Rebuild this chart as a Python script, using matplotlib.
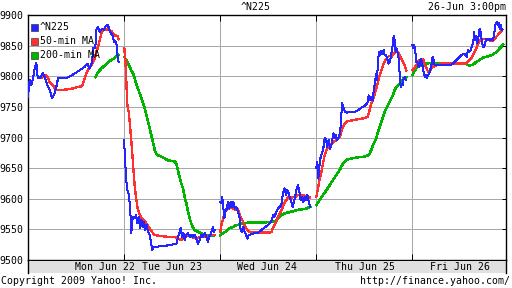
import numpy as np
import matplotlib
matplotlib.use("Agg")
import matplotlib.pyplot as plt
from matplotlib.patches import Rectangle
from matplotlib.lines import Line2D
import matplotlib.transforms as mtransforms

# ---------------- data (x = trading day index, 0 = Mon Jun 22 open) ----------------
N = None
n225_t = [0.000, 0.017, 0.035, 0.052, 0.069, 0.087, 0.097, 0.111, 0.132, 0.156, 0.174, 0.191, 0.208, 0.226,
          0.250, 0.271, 0.295, 0.313, 0.347, 0.399, 0.434, 0.486, 0.538, 0.590, 0.618, 0.642, 0.667, 0.681,
          0.701, 0.712, 0.729, 0.747, 0.771, 0.792, 0.806, 0.833, 0.851, 0.868, 0.885, 0.896, 0.910, 0.924,
          0.931, 0.944, N,
          1.003, 1.010, 1.021, 1.028, 1.042, 1.052, 1.066, 1.076, 1.087, 1.097, 1.111, 1.125, 1.139, 1.153,
          1.167, 1.181, 1.194, 1.208, 1.222, 1.236, 1.250, 1.267, 1.285, 1.295, 1.306, 1.354, 1.424, 1.493,
          1.545, 1.563, 1.580, 1.590, 1.604, 1.618, 1.632, 1.649, 1.667, 1.684, 1.701, 1.719, 1.736, 1.753,
          1.771, 1.788, 1.806, 1.823, 1.840, 1.858, 1.875, 1.885, 1.899, 1.910, 1.927, 1.938, 1.944, N,
          2.003, 2.014, 2.024, 2.035, 2.045, 2.056, 2.069, 2.083, 2.097, 2.111, 2.125, 2.139, 2.153, 2.170,
          2.188, 2.205, 2.215, 2.229, 2.243, 2.257, 2.271, 2.285, 2.299, 2.326, 2.361, 2.396, 2.431, 2.465,
          2.500, 2.535, 2.552, 2.569, 2.587, 2.604, 2.622, 2.639, 2.656, 2.674, 2.688, 2.701, 2.715, 2.729,
          2.743, 2.757, 2.771, 2.785, 2.799, 2.813, 2.826, 2.840, 2.854, 2.868, 2.882, 2.896, 2.910, 2.924,
          2.938, N,
          3.003, 3.014, 3.024, 3.035, 3.045, 3.056, 3.066, 3.076, 3.087, 3.097, 3.108, 3.118, 3.132, 3.146,
          3.160, 3.174, 3.184, 3.194, 3.208, 3.222, 3.236, 3.250, 3.260, 3.271, 3.281, 3.292, 3.306, 3.323,
          3.403, 3.438, 3.472, 3.507, 3.535, 3.549, 3.563, 3.576, 3.590, 3.604, 3.618, 3.628, 3.635, 3.646,
          3.656, 3.667, 3.677, 3.691, 3.705, 3.715, 3.729, 3.743, 3.757, 3.771, 3.785, 3.799, 3.809, 3.819,
          3.830, 3.840, 3.851, 3.861, 3.872, 3.882, 3.892, 3.903, 3.913, 3.924, 3.934, N,
          4.003, 4.014, 4.024, 4.035, 4.045, 4.056, 4.069, 4.080, 4.090, 4.104, 4.115, 4.125, 4.135, 4.146,
          4.156, 4.167, 4.181, 4.194, 4.205, 4.215, 4.226, 4.236, 4.253, 4.306, 4.375, 4.410, 4.444, 4.479,
          4.514, 4.549, 4.569, 4.583, 4.597, 4.611, 4.625, 4.639, 4.646, 4.656, 4.667, 4.681, 4.694, 4.705,
          4.715, 4.729, 4.743, 4.757, 4.771, 4.785, 4.799, 4.813, 4.826, 4.840, 4.854, 4.868, 4.882, 4.892,
          4.903, 4.913, 4.924, 4.934, 4.941]
n225_v = [9767, 9794, 9786, 9797, 9813, 9822, 9802, 9797, 9799, 9806, 9799, 9791, 9783, 9778,
          9764, 9770, 9783, 9797, 9797, 9797, 9800, 9805, 9810, 9816, 9821, 9813, 9824, 9847,
          9847, 9876, 9881, 9873, 9878, 9876, 9882, 9884, 9874, 9870, 9866, 9856, 9858, 9851,
          9835, 9824, N,
          9696, 9652, 9650, 9617, 9612, 9606, 9579, 9544, 9565, 9571, 9568, 9573, 9560, 9571,
          9552, 9565, 9554, 9563, 9549, 9557, 9546, 9541, 9525, 9516, 9522, 9522, 9523, 9525,
          9526, 9538, 9546, 9552, 9538, 9544, 9533, 9541, 9544, 9538, 9541, 9538, 9541, 9535,
          9526, 9533, 9541, 9538, 9544, 9538, 9530, 9538, 9541, 9546, 9554, 9546, 9549, N,
          9595, 9593, 9603, 9584, 9568, 9579, 9584, 9595, 9584, 9595, 9587, 9595, 9584, 9587,
          9579, 9568, 9549, 9546, 9554, 9546, 9541, 9535, 9541, 9542, 9544, 9544, 9549, 9553,
          9557, 9563, 9573, 9571, 9579, 9584, 9587, 9590, 9609, 9617, 9606, 9614, 9609, 9601,
          9595, 9587, 9595, 9606, 9617, 9622, 9612, 9598, 9603, 9595, 9603, 9598, 9606, 9595,
          9587, N,
          9650, 9661, 9633, 9652, 9666, 9671, 9677, 9682, 9696, 9699, 9693, 9685, 9696, 9682,
          9688, 9701, 9707, 9699, 9704, 9696, 9701, 9707, 9726, 9756, 9753, 9745, 9742, 9741,
          9742, 9745, 9749, 9752, 9756, 9769, 9761, 9767, 9761, 9780, 9794, 9805, 9794, 9824,
          9840, 9835, 9841, 9837, 9843, 9835, 9835, 9829, 9821, 9824, 9837, 9851, 9866, 9859,
          9840, 9846, 9837, 9829, 9802, 9783, 9788, 9786, 9797, 9799, 9794, N,
          9851, 9846, 9852, 9840, 9824, 9824, 9816, 9818, 9829, 9824, 9810, 9805, 9799, 9802,
          9797, 9802, 9805, 9813, 9821, 9832, 9827, 9818, 9818, 9818, 9818, 9819, 9824, 9829,
          9835, 9837, 9832, 9843, 9840, 9843, 9851, 9856, 9873, 9859, 9867, 9854, 9867, 9878,
          9873, 9856, 9848, 9851, 9862, 9859, 9862, 9859, 9862, 9859, 9867, 9884, 9889, 9884,
          9888, 9878, 9884, 9876, 9877]

ma50_t = [0.104, 0.139, 0.167, 0.191, 0.208, 0.226, 0.243, 0.260, 0.278, 0.295, 0.347, 0.417, 0.486, 0.521,
          0.556, 0.573, 0.590, 0.608, 0.625, 0.642, 0.660, 0.677, 0.694, 0.712, 0.729, 0.747, 0.764, 0.781,
          0.799, 0.833, 0.868, 0.889, 0.910, 0.931, 0.944, N,
          1.003, 1.014, 1.024, 1.035, 1.049, 1.059, 1.069, 1.083, 1.097, 1.111, 1.125, 1.139, 1.153, 1.167,
          1.181, 1.198, 1.215, 1.233, 1.250, 1.267, 1.285, 1.302, 1.319, 1.354, 1.389, 1.458, 1.528, 1.556,
          1.580, 1.597, 1.615, 1.632, 1.667, 1.701, 1.736, 1.771, 1.806, 1.840, 1.875, 1.910, 1.944, N,
          2.003, 2.014, 2.028, 2.042, 2.056, 2.076, 2.097, 2.118, 2.139, 2.160, 2.181, 2.194, 2.208, 2.222,
          2.240, 2.257, 2.274, 2.292, 2.326, 2.517, 2.535, 2.552, 2.569, 2.587, 2.604, 2.622, 2.639, 2.656,
          2.674, 2.691, 2.708, 2.743, 2.778, 2.813, 2.847, 2.882, 2.917, 2.938, N,
          3.003, 3.021, 3.038, 3.056, 3.073, 3.090, 3.108, 3.125, 3.142, 3.160, 3.177, 3.194, 3.212, 3.229,
          3.247, 3.264, 3.281, 3.299, 3.323, 3.368, 3.403, 3.438, 3.472, 3.507, 3.535, 3.549, 3.563, 3.576,
          3.590, 3.604, 3.618, 3.632, 3.646, 3.663, 3.681, 3.698, 3.715, 3.733, 3.750, 3.767, 3.785, 3.802,
          3.819, 3.837, 3.854, 3.872, 3.889, 3.906, 3.924, 3.941, N,
          4.003, 4.017, 4.035, 4.052, 4.069, 4.090, 4.104, 4.118, 4.132, 4.146, 4.160, 4.174, 4.188, 4.201,
          4.219, 4.236, 4.253, 4.271, 4.306, 4.514, 4.549, 4.583, 4.601, 4.618, 4.635, 4.653, 4.670, 4.688,
          4.705, 4.722, 4.792, 4.809, 4.826, 4.844, 4.861, 4.878, 4.896, 4.913, 4.931]
ma50_v = [9797, 9797, 9802, 9802, 9797, 9791, 9788, 9786, 9781, 9778, 9778, 9779, 9781, 9783,
          9784, 9788, 9797, 9805, 9810, 9816, 9819, 9824, 9829, 9840, 9848, 9859, 9870, 9876,
          9877, 9877, 9874, 9870, 9867, 9866, 9861, N,
          9846, 9829, 9794, 9753, 9742, 9726, 9707, 9682, 9650, 9622, 9603, 9587, 9579, 9573,
          9569, 9566, 9563, 9560, 9556, 9552, 9547, 9544, 9541, 9540, 9539, 9538, 9538, 9536,
          9534, 9533, 9534, 9538, 9541, 9538, 9536, 9536, 9538, 9538, 9539, 9541, 9541, N,
          9546, 9557, 9565, 9573, 9579, 9584, 9585, 9587, 9584, 9582, 9584, 9579, 9573, 9568,
          9563, 9557, 9552, 9547, 9545, 9545, 9546, 9552, 9557, 9563, 9571, 9576, 9582, 9587,
          9594, 9598, 9602, 9602, 9603, 9606, 9606, 9605, 9603, 9602, N,
          9603, 9617, 9633, 9644, 9658, 9671, 9680, 9685, 9688, 9690, 9692, 9694, 9696, 9698,
          9701, 9710, 9718, 9723, 9727, 9728, 9729, 9730, 9731, 9732, 9734, 9739, 9748, 9756,
          9761, 9767, 9775, 9783, 9791, 9802, 9810, 9818, 9824, 9829, 9832, 9834, 9832, 9836,
          9839, 9840, 9839, 9835, 9829, 9824, 9818, 9810, N,
          9810, 9813, 9816, 9821, 9825, 9828, 9829, 9827, 9821, 9816, 9810, 9807, 9810, 9813,
          9816, 9817, 9818, 9819, 9821, 9821, 9821, 9824, 9827, 9830, 9835, 9841, 9846, 9854,
          9859, 9861, 9861, 9859, 9858, 9859, 9862, 9865, 9868, 9872, 9874]

ma200_t = [0.701, 0.729, 0.764, 0.799, 0.833, 0.868, 0.903, 0.938, N,
           1.003, 1.024, 1.042, 1.059, 1.076, 1.094, 1.111, 1.128, 1.146, 1.163, 1.181, 1.198, 1.215, 1.233,
           1.250, 1.267, 1.285, 1.302, 1.319, 1.337, 1.354, 1.389, 1.424, 1.458, 1.493, 1.528, 1.545, 1.556,
           1.569, 1.583, 1.597, 1.615, 1.632, 1.649, 1.667, 1.684, 1.701, 1.719, 1.736, 1.771, 1.806, 1.840,
           1.875, 1.938, N,
           2.003, 2.031, 2.066, 2.101, 2.135, 2.170, 2.205, 2.240, 2.292, 2.552, 2.587, 2.622, 2.656, 2.691,
           2.743, 2.813, 2.865, 2.899, 2.938, N,
           3.003, 3.038, 3.073, 3.108, 3.142, 3.177, 3.212, 3.247, 3.271, 3.299, 3.323, 3.368, 3.403, 3.438,
           3.507, 3.542, 3.559, 3.576, 3.594, 3.611, 3.628, 3.646, 3.663, 3.681, 3.698, 3.715, 3.733, 3.750,
           3.767, 3.785, 3.802, 3.819, 3.837, 3.854, 3.872, 3.889, 3.906, 3.924, 3.941, N,
           4.003, 4.028, 4.063, 4.097, 4.132, 4.201, 4.514, 4.566, 4.601, 4.635, 4.670, 4.705, 4.740, 4.774,
           4.809, 4.844, 4.878, 4.913, 4.938, 4.948]
ma200_v = [9799, 9807, 9813, 9818, 9823, 9827, 9830, 9835, N,
           9832, 9827, 9821, 9816, 9810, 9805, 9797, 9788, 9780, 9772, 9764, 9757, 9748, 9737,
           9726, 9715, 9704, 9693, 9680, 9674, 9671, 9669, 9666, 9663, 9662, 9661, 9658, 9650,
           9641, 9633, 9625, 9617, 9603, 9593, 9579, 9568, 9560, 9553, 9549, 9546, 9544, 9541,
           9540, 9539, N,
           9540, 9544, 9547, 9552, 9554, 9557, 9558, 9560, 9561, 9562, 9565, 9571, 9575, 9577,
           9579, 9582, 9583, 9584, 9587, N,
           9590, 9598, 9606, 9614, 9622, 9631, 9639, 9647, 9655, 9661, 9664, 9666, 9667, 9668,
           9669, 9671, 9674, 9680, 9688, 9693, 9699, 9710, 9718, 9726, 9734, 9742, 9748, 9753,
           9759, 9764, 9770, 9778, 9783, 9786, 9788, 9792, 9796, 9798, 9799, N,
           9802, 9810, 9816, 9819, 9821, 9822, 9821, 9820, 9818, 9819, 9824, 9827, 9831, 9832,
           9834, 9836, 9840, 9846, 9850, 9852]

series_names = ["^N225", "50-min MA", "200-min MA"]
series_colors = ["#2424ff", "#ff3030", "#00b400"]
day_boundaries = [1, 2, 3, 4]
day_labels = ["Mon Jun 22", "Tue Jun 23", "Wed Jun 24", "Thu Jun 25", "Fri Jun 26"]
day_label_pos = [0.807, 1.497, 2.49, 3.51, 4.50]
y_ticks = [9500, 9550, 9600, 9650, 9700, 9750, 9800, 9850, 9900]


def arr(a):
    return np.array([np.nan if v is None else v for v in a], dtype=float)


MONO = "DejaVu Sans Mono"
FS = 7.1
PX = 0.72  # one pixel in points at 100 dpi
W, H = 512, 288
fig = plt.figure(figsize=(W / 100, H / 100), dpi=100)
fig.patch.set_facecolor("white")

L, R, T, B = 28, 506, 15, 260
ax = fig.add_axes([L / W, 1 - B / H, (R - L) / W, (B - T) / H])
ax.set_xlim(0, (R - L) / 96.0)
ax.set_ylim(9500, 9900.5)

grid_c = "#a8a8a8"
for yv in y_ticks[1:-1]:
    ax.axhline(yv, color=grid_c, lw=PX, zorder=1, antialiased=False)
for xv in day_boundaries:
    ax.axvline(xv, color=grid_c, lw=PX, zorder=1, antialiased=False)

ax.plot(arr(ma200_t), arr(ma200_v), color=series_colors[2], lw=1.1, zorder=3, antialiased=False)
ax.plot(arr(ma50_t), arr(ma50_v), color=series_colors[1], lw=0.95, zorder=4, antialiased=False)
ax.plot(arr(n225_t), arr(n225_v), color=series_colors[0], lw=PX, zorder=5, antialiased=False)

ax.set_yticks(y_ticks)
ax.set_yticklabels([str(v) for v in y_ticks], fontfamily=MONO, fontsize=FS)
ax.tick_params(axis="y", which="both", left=False, right=True, direction="in", length=3,
               width=PX, labelleft=True, pad=3)
ax.set_xticks(day_boundaries)
ax.set_xticklabels([])
ax.tick_params(axis="x", which="both", bottom=True, top=True, direction="in", length=4, width=PX)
for s in ax.spines.values():
    s.set_color("black")
    s.set_linewidth(1.0)

# date band under the axis
band = Rectangle((L / W, 1 - 273 / H), (R - L) / W, 12 / H, transform=fig.transFigure,
                 facecolor="#e0e0e0", edgecolor="none", zorder=0)
fig.patches.append(band)
fig.add_artist(Line2D([L / W, L / W], [1 - 273 / H, 1 - B / H], color="black", lw=1.0,
                      transform=fig.transFigure))
fig.add_artist(Line2D([R / W, R / W], [1 - 273 / H, 1 - B / H], color="black", lw=1.0,
                      transform=fig.transFigure))
trans = mtransforms.blended_transform_factory(ax.transData, fig.transFigure)
for lab, pos in zip(day_labels, day_label_pos):
    fig.text(pos, 1 - 267 / H, lab, transform=trans, ha="center", va="center",
             fontfamily=MONO, fontsize=FS, zorder=20)

# legend (manual, matches original placement)
for i, (nm, col) in enumerate(zip(series_names, series_colors)):
    yc = 27.5 + i * 14.0
    fig.patches.append(Rectangle((31 / W, 1 - (yc + 3.5) / H), 7 / W, 7 / H,
                                 transform=fig.transFigure, facecolor=col,
                                 edgecolor="#202020", lw=0.4, zorder=10))
    fig.text(40 / W, 1 - yc / H, nm, ha="left", va="center", fontfamily=MONO, fontsize=FS,
             zorder=10)

# header / footer texts
fig.text(256 / W, 1 - 7.5 / H, "^N225", ha="center", va="center", fontfamily=MONO, fontsize=FS)
fig.text(506 / W, 1 - 7.5 / H, "26-Jun 3:00pm", ha="right", va="center", fontfamily=MONO, fontsize=FS)
fig.text(1 / W, 1 - 281.5 / H, "Copyright 2009 Yahoo! Inc.", ha="left", va="center",
         fontfamily=MONO, fontsize=FS)
fig.text(510 / W, 1 - 281.5 / H, "http://finance.yahoo.com/", ha="right", va="center",
         fontfamily=MONO, fontsize=FS)

fig.savefig("out.png", dpi=100, facecolor="white")
